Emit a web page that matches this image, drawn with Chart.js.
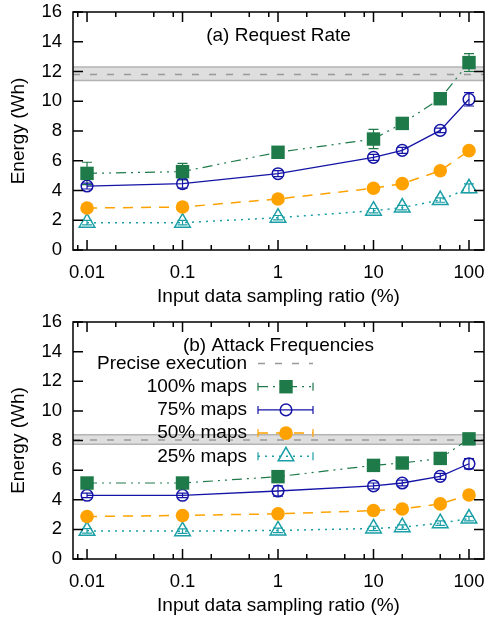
<!DOCTYPE html>
<html>
<head>
<meta charset="utf-8">
<script src="https://cdn.jsdelivr.net/npm/chart.js@4.4.1/dist/chart.umd.min.js"></script>
<style>
  body { margin: 0; background: #fff; }
  canvas { display: block; }
</style>
</head>
<body>
<canvas id="chartA" width="486" height="310"></canvas>
<canvas id="chartB" width="486" height="309"></canvas>
<script>
// x positions (sampling ratio, %) and axis ticks
const xValues = [0.01, 0.1, 1, 10, 20, 50, 100];
const xMajorTicks = [0.01, 0.1, 1, 10, 100];
const xTickLabels = ['0.01', '0.1', '1', '10', '100'];
const xMinorTicks = [0.008, 0.02, 0.05, 0.08, 0.2, 0.5, 0.8, 2, 5, 8, 20, 50, 80];
const yTicks = [0, 2, 4, 6, 8, 10, 12, 14, 16];

const seriesNames = ['100% maps', '75% maps', '50% maps', '25% maps'];

// (a) Request Rate
const rateMaps100 = [5.15, 5.27, 6.57, 7.46, 8.51, 10.17, 12.6];
const rateMaps75 = [4.30, 4.46, 5.13, 6.23, 6.70, 8.04, 10.13];
const rateMaps50 = [2.82, 2.89, 3.43, 4.15, 4.46, 5.33, 6.68];
const rateMaps25 = [1.84, 1.84, 2.17, 2.64, 2.85, 3.36, 4.15];
const rateErr100 = [0.75, 0.55, 0.15, 0.65, 0.15, 0.15, 0.6];
const rateErr75 = [0.2, 0.3, 0.2, 0.2, 0.2, 0.15, 0.45];
const rateErr50 = [0.1, 0.1, 0.1, 0.1, 0.1, 0.1, 0.15];
const rateErr25 = [0.15, 0.15, 0.15, 0.15, 0.15, 0.15, 0.3];
const ratePrecise = 11.8;
const ratePreciseBand = [11.4, 12.3];

// (b) Attack Frequencies
const freqMaps100 = [5.13, 5.13, 5.56, 6.32, 6.48, 6.79, 8.11];
const freqMaps75 = [4.30, 4.30, 4.59, 4.93, 5.13, 5.58, 6.43];
const freqMaps50 = [2.87, 2.94, 3.05, 3.27, 3.38, 3.72, 4.32];
const freqMaps25 = [1.90, 1.88, 1.93, 2.06, 2.15, 2.42, 2.73];
const freqErr100 = [0.1, 0.1, 0.2, 0.15, 0.1, 0.15, 0.1];
const freqErr75 = [0.15, 0.15, 0.35, 0.2, 0.2, 0.2, 0.35];
const freqErr50 = [0.1, 0.1, 0.1, 0.1, 0.1, 0.1, 0.1];
const freqErr25 = [0.15, 0.15, 0.15, 0.15, 0.15, 0.15, 0.15];
const freqPrecise = 8.04;
const freqPreciseBand = [7.75, 8.38];

// line / marker styles for the four series
const styles = [
  { color: '#1f7a4a', dash: [10, 5, 2, 5, 2, 5], width: 1.2, point: 'rect', radius: 9.5, fill: true },
  { color: '#1414a6', dash: [], width: 1.3, point: 'circle', radius: 5.8, fill: false },
  { color: '#ffa200', dash: [10, 8], width: 1.5, point: 'circle', radius: 6.8, fill: true },
  { color: '#1a9fa6', dash: [2, 5], width: 1.5, point: 'triangle', radius: 9, fill: false }
];

const FONT = '"Liberation Sans", Arial, sans-serif';
Chart.defaults.font.family = FONT;
Chart.defaults.color = '#000';

const panelPlugin = {
  id: 'panel',
  beforeDatasetsDraw(chart, args, opts) {
    const { ctx, chartArea: a, scales: { x, y } } = chart;
    ctx.save();
    // precise execution band + dashed line
    const yTop = y.getPixelForValue(opts.band[1]);
    const yBot = y.getPixelForValue(opts.band[0]);
    ctx.fillStyle = '#dedede';
    ctx.fillRect(a.left, yTop, a.right - a.left, yBot - yTop);
    ctx.strokeStyle = '#b4b4b4';
    ctx.lineWidth = 1.5;
    ctx.beginPath();
    ctx.moveTo(a.left, yTop); ctx.lineTo(a.right, yTop);
    ctx.moveTo(a.left, yBot); ctx.lineTo(a.right, yBot);
    ctx.stroke();
    const yp = y.getPixelForValue(opts.precise);
    ctx.strokeStyle = '#999999';
    ctx.setLineDash([7, 10]);
    ctx.beginPath();
    ctx.moveTo(a.left, yp); ctx.lineTo(a.right, yp);
    ctx.stroke();
    ctx.setLineDash([]);

    // error bars
    chart.data.datasets.forEach((ds) => {
      ctx.strokeStyle = ds.borderColor;
      ctx.lineWidth = 1.2;
      ds.data.forEach((p, j) => {
        const px = x.getPixelForValue(p.x);
        const y1 = y.getPixelForValue(p.y + ds.errors[j]);
        const y0 = y.getPixelForValue(p.y - ds.errors[j]);
        ctx.beginPath();
        ctx.moveTo(px, y0); ctx.lineTo(px, y1);
        ctx.moveTo(px - 5, y0); ctx.lineTo(px + 5, y0);
        ctx.moveTo(px - 5, y1); ctx.lineTo(px + 5, y1);
        ctx.stroke();
      });
    });
    ctx.restore();
  },
  afterDatasetsDraw(chart, args, opts) {
    const { ctx, chartArea: a, scales: { x, y } } = chart;
    ctx.save();
    ctx.strokeStyle = '#000';
    ctx.lineWidth = 1.5;
    ctx.setLineDash([]);
    ctx.beginPath();
    // inward ticks on all four sides
    yTicks.forEach(v => {
      const py = y.getPixelForValue(v);
      ctx.moveTo(a.left, py); ctx.lineTo(a.left + 10, py);
      ctx.moveTo(a.right, py); ctx.lineTo(a.right - 10, py);
    });
    xMajorTicks.forEach(v => {
      const px = x.getPixelForValue(v);
      ctx.moveTo(px, a.bottom); ctx.lineTo(px, a.bottom - 10);
      ctx.moveTo(px, a.top); ctx.lineTo(px, a.top + 10);
    });
    xMinorTicks.forEach(v => {
      const px = x.getPixelForValue(v);
      ctx.moveTo(px, a.bottom); ctx.lineTo(px, a.bottom - 5);
      ctx.moveTo(px, a.top); ctx.lineTo(px, a.top + 5);
    });
    ctx.stroke();
    ctx.strokeRect(a.left, a.top, a.right - a.left, a.bottom - a.top);

    // tick labels
    ctx.fillStyle = '#000';
    ctx.font = '18.5px ' + FONT;
    ctx.textBaseline = 'middle';
    ctx.textAlign = 'right';
    yTicks.forEach(v => ctx.fillText(String(v), a.left - 11, y.getPixelForValue(v)));
    ctx.textAlign = 'center';
    xMajorTicks.forEach((v, i) => ctx.fillText(xTickLabels[i], x.getPixelForValue(v), a.bottom + 23));

    // panel title
    ctx.font = '19px ' + FONT;
    ctx.textAlign = 'center';
    ctx.textBaseline = 'alphabetic';
    ctx.fillText(opts.title, (a.left + a.right) / 2, a.top + 29);

    // key (panel b only)
    if (opts.legend) {
      const textX = 247, x0 = 258, x1 = 313, xm = 286;
      const rowY = i => a.top + 41.5 + 23.2 * i;
      ctx.textAlign = 'right';
      ctx.textBaseline = 'middle';
      ctx.fillText('Precise execution', textX, rowY(0));
      ctx.strokeStyle = '#999999';
      ctx.lineWidth = 1.5;
      ctx.setLineDash([7, 10]);
      ctx.beginPath();
      ctx.moveTo(x0, rowY(0)); ctx.lineTo(x1, rowY(0));
      ctx.stroke();
      chart.data.datasets.forEach((ds, i) => {
        const ly = rowY(i + 1);
        ctx.fillStyle = '#000';
        ctx.fillText(ds.label, textX, ly);
        ctx.strokeStyle = ds.borderColor;
        ctx.lineWidth = ds.borderWidth;
        ctx.setLineDash(ds.borderDash);
        ctx.beginPath();
        ctx.moveTo(x0, ly); ctx.lineTo(x1, ly);
        ctx.stroke();
        ctx.setLineDash([]);
        ctx.lineWidth = 1.2;
        ctx.beginPath();
        ctx.moveTo(x0, ly - 4); ctx.lineTo(x0, ly + 4);
        ctx.moveTo(x1, ly - 4); ctx.lineTo(x1, ly + 4);
        ctx.stroke();
        ctx.fillStyle = ds.pointBackgroundColor;
        ctx.strokeStyle = ds.borderColor;
        ctx.lineWidth = ds.pointBorderWidth;
        Chart.helpers.drawPoint(ctx, {
          pointStyle: ds.pointStyle, radius: ds.pointRadius, rotation: 0, borderWidth: ds.pointBorderWidth
        }, xm, ly);
      });
    }
    ctx.restore();
  }
};

function makeChart(id, title, values, errors, precise, band, legend) {
  const datasets = values.map((vals, i) => {
    const s = styles[i];
    return {
      label: seriesNames[i],
      data: xValues.map((xv, j) => ({ x: xv, y: vals[j] })),
      errors: errors[i],
      borderColor: s.color,
      borderWidth: s.width,
      borderDash: s.dash,
      pointStyle: s.point,
      pointRadius: s.radius,
      pointBorderWidth: s.fill ? 0 : 1.5,
      pointBackgroundColor: s.fill ? s.color : 'rgba(0,0,0,0)',
      pointBorderColor: s.color,
      fill: false,
      tension: 0
    };
  });

  return new Chart(document.getElementById(id), {
    type: 'line',
    data: { datasets: datasets },
    options: {
      responsive: false,
      animation: false,
      devicePixelRatio: 1,
      layout: { autoPadding: false, padding: { top: 12, right: 2, left: 0, bottom: 0 } },
      plugins: {
        legend: { display: false },
        tooltip: { enabled: false },
        panel: { title: title, precise: precise, band: band, legend: legend }
      },
      scales: {
        x: {
          type: 'logarithmic',
          min: 0.00713,
          max: 143.6,
          grid: { display: false },
          border: { display: false },
          afterFit: scale => { scale.height = 60; },
          ticks: { display: false },
          title: {
            display: true,
            text: 'Input data sampling ratio (%)',
            font: { size: 19 },
            padding: { top: 0, bottom: 1.6 }
          }
        },
        y: {
          min: 0,
          max: 16,
          grid: { display: false },
          border: { display: false },
          afterFit: scale => { scale.width = 73; },
          ticks: { display: false },
          title: {
            display: true,
            text: 'Energy (Wh)',
            font: { size: 19 },
            padding: { top: 7.6, bottom: 0 }
          }
        }
      }
    },
    plugins: [panelPlugin]
  });
}

makeChart('chartA', '(a) Request Rate',
  [rateMaps100, rateMaps75, rateMaps50, rateMaps25],
  [rateErr100, rateErr75, rateErr50, rateErr25],
  ratePrecise, ratePreciseBand, false);

makeChart('chartB', '(b) Attack Frequencies',
  [freqMaps100, freqMaps75, freqMaps50, freqMaps25],
  [freqErr100, freqErr75, freqErr50, freqErr25],
  freqPrecise, freqPreciseBand, true);
</script>
</body>
</html>
